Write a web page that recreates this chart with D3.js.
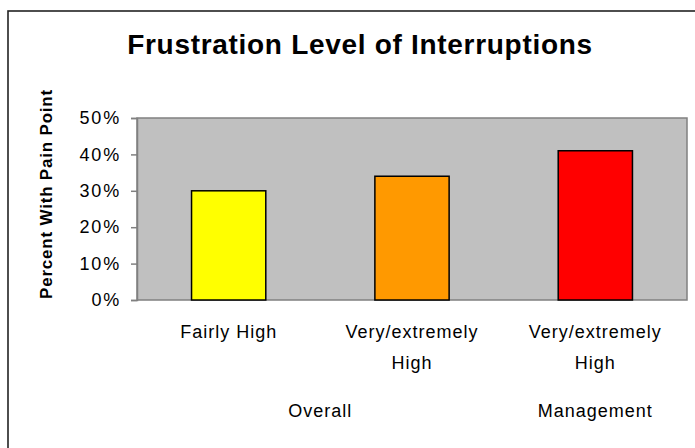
<!DOCTYPE html>
<html>
<head>
<meta charset="utf-8">
<script src="https://cdn.jsdelivr.net/npm/d3@7"></script>
<style>
  body { margin: 0; background: #fff; }
  text { font-family: "Liberation Sans", Arial, sans-serif; fill: #000; }
</style>
</head>
<body>
<div id="chart"></div>
<script>
"use strict";
(function(){
    // chart data
    const levels = ["Fairly High", "Very/extremely High", "Very/extremely High"];
    const groups = ["Overall", "Overall", "Management"];
    const values = [30, 34, 41];
    const barColors = ["#FFFF00", "#FF9900", "#FF0000"];
    const yTicks = [0, 10, 20, 30, 40, 50];
    const title = "Frustration Level of Interruptions";
    const yTitle = "Percent With Pain Point";

    const measurements = {
        width: 695,
        height: 448,
        left: 137,
        right: 687,
        top: 118,
        bottom: 300
    };

    const svg = d3.select("#chart").append("svg")
        .attr("width", measurements.width)
        .attr("height", measurements.height);

    // outer chart frame (runs off the right/bottom edge)
    svg.append("rect")
        .attr("x", 8).attr("y", 11)
        .attr("width", 720).attr("height", 470)
        .attr("fill", "none")
        .attr("stroke", "#222")
        .attr("stroke-width", 1.6);

    const idx = values.map((d, i) => i);

    const scaleX = d3.scaleBand()
        .domain(idx)
        .range([measurements.left, measurements.right]);

    const scaleY = d3.scaleLinear()
        .domain([0, 50])
        .range([measurements.bottom, measurements.top]);

    // plot area
    svg.append("rect")
        .attr("x", measurements.left)
        .attr("y", measurements.top)
        .attr("width", measurements.right - measurements.left)
        .attr("height", measurements.bottom - measurements.top)
        .attr("fill", "#C0C0C0")
        .attr("stroke", "#808080")
        .attr("stroke-width", 1.5);

    // y axis
    const yAxis = d3.axisLeft(scaleY)
        .tickValues(yTicks)
        .tickSize(6)
        .tickPadding(10)
        .tickFormat(d => d + "%");

    const yg = svg.append("g")
        .attr("transform", "translate(" + measurements.left + ",0)")
        .call(yAxis);
    yg.select(".domain").attr("stroke", "#808080").attr("stroke-width", 1.5);
    yg.selectAll(".tick line").attr("stroke", "#808080").attr("stroke-width", 1.5);
    yg.selectAll(".tick text")
        .attr("font-size", 18)
        .attr("font-family", "Liberation Sans, Arial, sans-serif")
        .style("letter-spacing", "1.8px")
        .attr("fill", "#000");

    // bars
    const barW = scaleX.bandwidth() * 0.405;
    svg.selectAll(".bar")
        .data(values)
        .enter()
        .append("rect")
        .attr("class", "bar")
        .attr("x", (d, i) => scaleX(i) + scaleX.bandwidth() / 2 - barW / 2)
        .attr("y", d => scaleY(d))
        .attr("width", barW)
        .attr("height", d => scaleY(0) - scaleY(d))
        .attr("fill", (d, i) => barColors[i])
        .attr("stroke", "#000")
        .attr("stroke-width", 1.5);

    // category labels (split into two lines after "Very/extremely")
    const catLabels = svg.selectAll(".cat")
        .data(levels)
        .enter()
        .append("text")
        .attr("class", "cat")
        .attr("font-size", 18)
        .style("letter-spacing", "1px")
        .attr("text-anchor", "middle");
    catLabels.each(function(d, i) {
        const parts = d.startsWith("Very") ? ["Very/extremely", "High"] : [d];
        const cx = scaleX(i) + scaleX.bandwidth() / 2;
        parts.forEach((p, j) => {
            d3.select(this).append("tspan")
                .attr("x", cx)
                .attr("y", 338 + j * 31)
                .text(p);
        });
    });

    // group labels, centered under the bars in each group
    const groupNames = Array.from(new Set(groups));
    svg.selectAll(".grp")
        .data(groupNames)
        .enter()
        .append("text")
        .attr("class", "grp")
        .attr("x", g => {
            const members = idx.filter(i => groups[i] === g);
            return d3.mean(members, i => scaleX(i) + scaleX.bandwidth() / 2);
        })
        .attr("y", 417)
        .attr("font-size", 18)
        .style("letter-spacing", "1px")
        .attr("text-anchor", "middle")
        .text(g => g);

    // title
    svg.append("text")
        .attr("x", 360)
        .attr("y", 54)
        .attr("text-anchor", "middle")
        .attr("font-size", 28)
        .attr("font-weight", "bold")
        .style("letter-spacing", "0.7px")
        .text(title);

    // y axis title
    svg.append("text")
        .attr("transform", "translate(52,194) rotate(-90)")
        .attr("text-anchor", "middle")
        .attr("font-size", 17)
        .attr("font-weight", "bold")
        .style("letter-spacing", "0.8px")
        .text(yTitle);
})()
</script>
</body>
</html>
